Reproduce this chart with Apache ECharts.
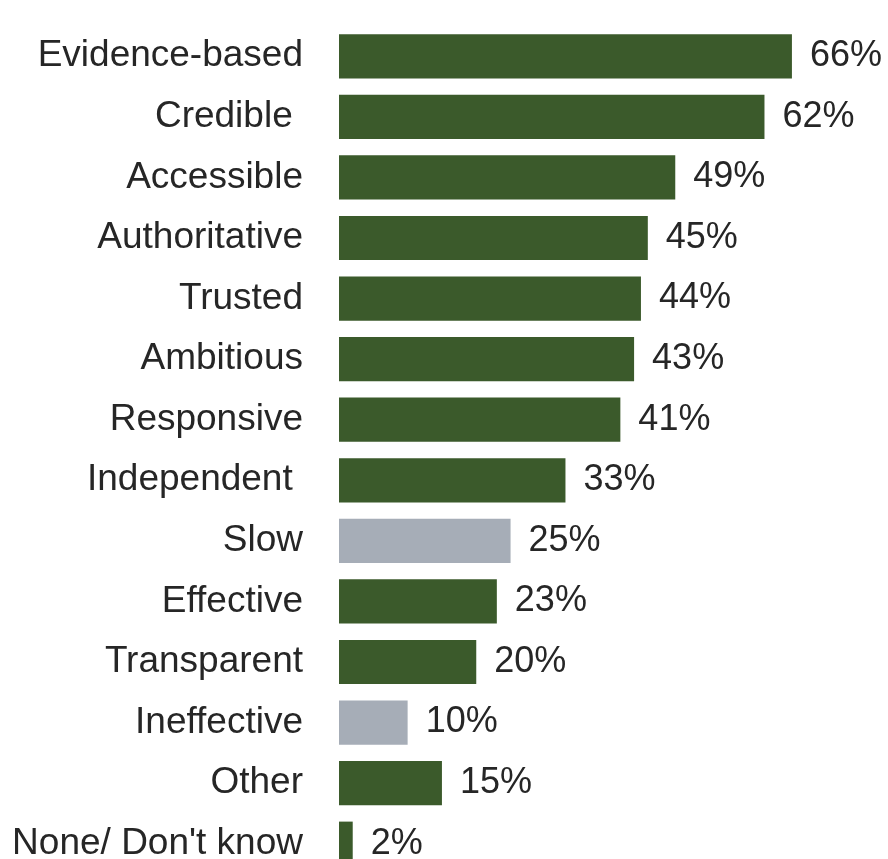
<!DOCTYPE html>
<html>
<head>
<meta charset="utf-8">
<script src="https://cdn.jsdelivr.net/npm/echarts@6/dist/echarts.min.js"></script>
<style>
  html, body { margin: 0; padding: 0; background: #ffffff; overflow: hidden; height: 859px; }
  /* the last row runs past the bottom edge of the page */
  #chart { width: 888px; height: 875px; }
</style>
</head>
<body>
<div id="chart"></div>
<script>
// Survey attributes, top to bottom, with the share choosing each
const categories = [
  'Evidence-based', 'Credible ', 'Accessible', 'Authoritative', 'Trusted',
  'Ambitious', 'Responsive', 'Independent ', 'Slow', 'Effective',
  'Transparent', 'Ineffective', 'Other', "None/ Don't know"
];
const values = [66, 62, 49, 45, 44, 43, 41, 33, 25, 23, 20, 10, 15, 2];
// Negative attributes are drawn in grey
const negative = ['Slow', 'Ineffective'];

const GREEN = '#3b5a2b';
const GREY = '#a6adb7';

const chart = echarts.init(document.getElementById('chart'));
chart.setOption({
  animation: false,
  grid: { left: 339, right: 0, top: 26, bottom: 1 },
  xAxis: {
    type: 'value', min: 0, max: 80,
    show: false
  },
  yAxis: {
    type: 'category',
    inverse: true,
    data: categories,
    axisLine: { show: false },
    axisTick: { show: false },
    splitLine: { show: false },
    axisLabel: {
      margin: 36,
      fontFamily: 'Liberation Sans, Arial, sans-serif',
      fontSize: 37,
      color: '#262626'
    }
  },
  series: [{
    type: 'bar',
    barCategoryGap: '27%',
    data: values.map((v, i) => ({
      value: v,
      itemStyle: { color: negative.includes(categories[i]) ? GREY : GREEN }
    })),
    label: {
      show: true,
      position: 'right',
      distance: 18,
      formatter: '{c}%',
      fontFamily: 'Liberation Sans, Arial, sans-serif',
      fontSize: 36,
      color: '#262626'
    }
  }]
});
</script>
</body>
</html>
